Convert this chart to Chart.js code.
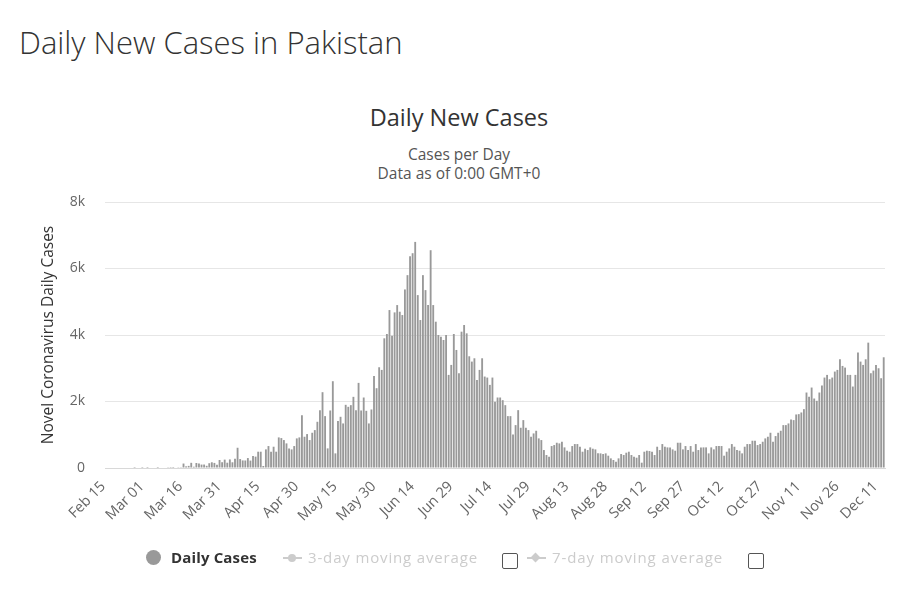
<!DOCTYPE html>
<html><head><meta charset="utf-8">
<script src="https://cdn.jsdelivr.net/npm/chart.js@4"></script>
<style>
body{margin:0;background:#fff;width:902px;height:602px;overflow:hidden;font-family:"Open Sans",sans-serif;position:relative;}
#h{position:absolute;left:19px;top:21px;font-size:31px;line-height:42px;color:#333;font-weight:300;white-space:nowrap;}
#ct{position:absolute;left:0;width:918px;top:101px;text-align:center;font-size:23.5px;line-height:32px;color:#333;}
#st{position:absolute;left:0;width:918px;top:145px;text-align:center;font-size:15.5px;line-height:19px;color:#555;}
#c{position:absolute;left:0;top:0;}
.lg{position:absolute;top:547px;height:20px;font-size:15px;line-height:20px;white-space:nowrap;}
.box{position:absolute;top:553px;width:14px;height:14px;border:1px solid #555;border-radius:2px;background:#fff;}
</style></head><body>
<div id="h">Daily New Cases in Pakistan</div>
<div id="ct">Daily New Cases</div>
<div id="st">Cases per Day<br>Data as of 0:00 GMT+0</div>
<canvas id="c" width="902" height="602"></canvas>
<div class="lg" style="left:146px;"><span style="display:inline-block;width:15px;height:15px;border-radius:8px;background:#999;vertical-align:-2px;"></span></div>
<div class="lg" style="left:171px;font-weight:bold;color:#333;letter-spacing:0.15px;">Daily Cases</div>
<div class="lg" style="left:283px;color:#ccc;"><span style="display:inline-block;position:relative;width:19px;height:14px;vertical-align:-2px;"><span style="position:absolute;left:0;top:6px;width:19px;height:2px;background:#ccc;"></span><span style="position:absolute;left:5px;top:3px;width:8px;height:8px;border-radius:4px;background:#ccc;"></span></span></div>
<div class="lg" style="left:308px;color:#ccc;letter-spacing:0.85px;">3-day moving average</div>
<div class="box" style="left:502px;"></div>
<div class="lg" style="left:527px;color:#ccc;"><span style="display:inline-block;position:relative;width:19px;height:14px;vertical-align:-2px;"><span style="position:absolute;left:0;top:6px;width:19px;height:2px;background:#ccc;"></span><span style="position:absolute;left:5px;top:3px;width:7px;height:7px;transform:rotate(45deg);background:#ccc;"></span></span></div>
<div class="lg" style="left:552px;color:#ccc;letter-spacing:0.9px;">7-day moving average</div>
<div class="box" style="left:748px;"></div>
<script>
const startDate = [2020, 1, 15]; // Feb 15, 2020
const dailyCases = [
0,0,0,0,0,0,0,0,0,0,
0,2,0,0,2,0,1,0,0,0,
1,0,0,0,9,3,1,0,7,25,
134,50,64,156,38,150,139,103,104,66,
144,172,153,99,240,174,252,159,258,172,
277,609,269,228,226,299,223,363,342,490,
490,60,560,660,490,640,490,920,900,840,
740,590,560,660,890,920,1590,940,1020,840,
1060,1140,1390,1740,2280,1560,590,1730,2610,440,
1410,1540,1340,1900,1840,1890,2140,1740,2560,1730,
2120,1720,1340,1760,2770,2400,3030,2950,3900,4030,
4750,3980,4680,4900,4700,4600,5370,5800,6370,6460,
6800,5200,4450,5800,5350,4900,6550,4900,4400,4000,
3950,3850,4000,2800,3100,4030,3550,2850,4100,4300,
4050,3360,3200,3300,2650,2950,3300,2750,2720,2500,
2720,1990,2120,2120,2040,1890,1560,1560,1010,1290,
1740,1210,1440,1210,1140,940,1040,1120,890,840,
540,390,340,660,690,760,740,790,620,520,
490,660,720,720,640,490,580,540,620,580,
560,440,440,420,440,370,290,240,190,290,
420,390,460,490,390,340,310,390,160,490,
520,510,490,390,640,540,720,640,620,620,
560,520,760,760,560,660,540,660,490,720,
540,620,620,620,440,620,560,660,660,660,
370,490,590,720,640,540,520,440,640,720,
720,820,820,690,720,790,890,940,1060,790,
960,1060,1120,1290,1290,1340,1460,1440,1610,1620,
1670,1770,2270,2140,2420,2090,2020,2270,2480,2720,
2800,2670,2720,2900,2950,3270,3070,3020,2800,2800,
2450,2800,3470,3200,3100,3270,3770,2850,2930,3100,
3000,2700,3330
];
const monthNames = ['Jan','Feb','Mar','Apr','May','Jun','Jul','Aug','Sep','Oct','Nov','Dec'];
const categories = [];
for (let i = 0; i < dailyCases.length; i++) {
  const d = new Date(Date.UTC(startDate[0], startDate[1], startDate[2] + i));
  categories.push(monthNames[d.getUTCMonth()] + ' ' + String(d.getUTCDate()).padStart(2, '0'));
}
const tickEvery = 15;
const yTicks = [0, 2000, 4000, 6000, 8000];
const yTickLabels = ['0', '2k', '4k', '6k', '8k'];
const FONT = '"Open Sans", sans-serif';

new Chart(document.getElementById('c'), {
  type: 'bar',
  data: {
    labels: categories,
    datasets: [{
      label: 'Daily Cases',
      data: dailyCases,
      backgroundColor: '#999999',
      borderWidth: 0,
      barPercentage: 0.72,
      categoryPercentage: 1.0
    }]
  },
  options: {
    responsive: false,
    animation: false,
    layout: { padding: { left: 39, right: 17, top: 202, bottom: 0 } },
    plugins: { legend: { display: false }, tooltip: { enabled: false }, title: { display: false } },
    scales: {
      x: {
        grid: { display: false, drawTicks: false },
        border: { display: true, color: '#d8d8d8', width: 1 },
        ticks: {
          autoSkip: false, maxRotation: 45, minRotation: 45, padding: 10, labelOffset: -3,
          color: '#666', font: { size: 14.5, family: FONT },
          callback: (v, i) => (i % tickEvery === 0 ? categories[i] : null)
        },
        afterFit: s => { s.height = 134; }
      },
      y: {
        min: 0, max: 8000,
        afterBuildTicks: s => { s.ticks = yTicks.map(v => ({ value: v })); },
        ticks: {
          padding: 20, color: '#666', font: { size: 14, family: FONT },
          callback: v => yTickLabels[yTicks.indexOf(v)]
        },
        grid: { color: '#e6e6e6', drawTicks: false },
        border: { display: false },
        title: { display: true, text: 'Novel Coronavirus Daily Cases', color: '#333', font: { size: 15.5, family: FONT }, padding: 0 },
        afterFit: s => { s.width = 66; }
      }
    }
  }
});
</script>
</body></html>
